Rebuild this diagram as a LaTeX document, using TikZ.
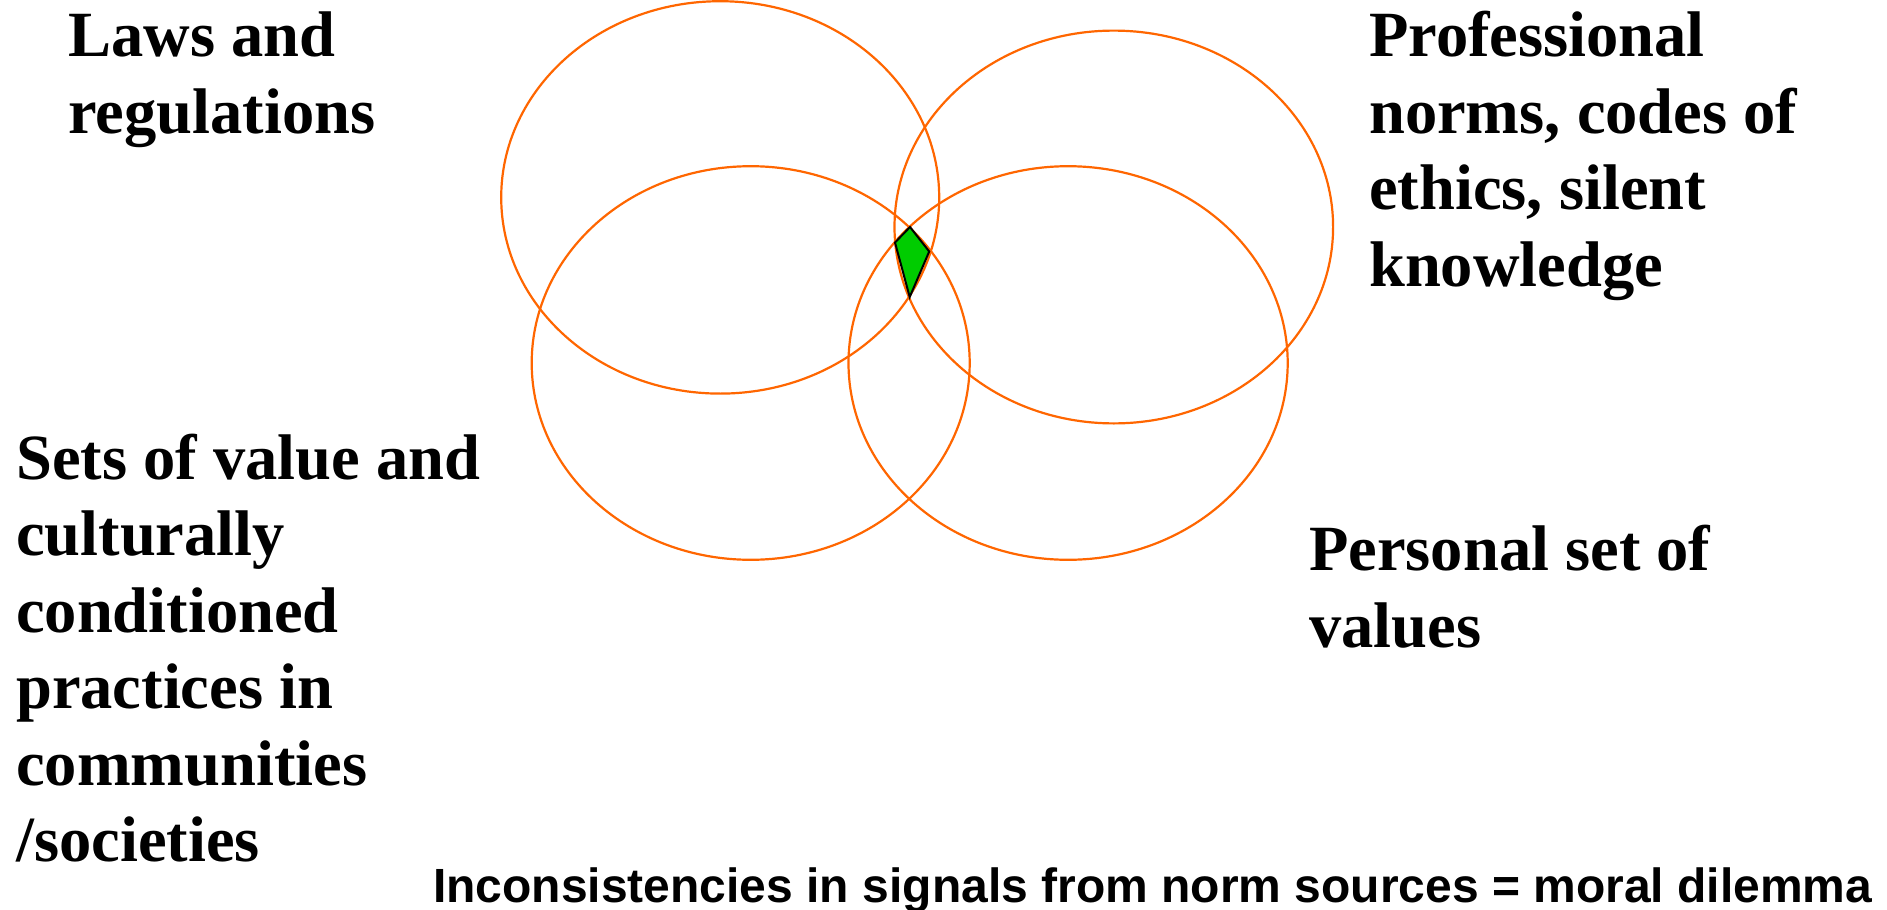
\documentclass[tikz,border=0pt]{standalone}
\usepackage{fontspec}
\setmainfont{Liberation Serif}
\setsansfont{Liberation Sans}
\definecolor{ringorange}{RGB}{255,102,0}
\definecolor{coregreen}{RGB}{0,204,0}
\begin{document}
\begin{tikzpicture}[x=1pt,y=-1pt,
  ring/.style={draw=ringorange, line width=2.2pt},
  label/.style={anchor=base west, inner sep=0pt, align=left,
    font=\fontsize{64.5}{76.5}\selectfont\bfseries},
  footer/.style={anchor=base west, inner sep=0pt,
    font=\fontsize{48}{52}\selectfont\sffamily\bfseries}]
\useasboundingbox (0,0) rectangle (1887,910);
\fill[white] (0,0) rectangle (1887,910);
% four norm-source ellipses
\draw[ring] (720.2,197.4) ellipse [x radius=219, y radius=196.2];
\draw[ring] (1113.8,227) ellipse [x radius=219.3, y radius=196.4];
\draw[ring] (750.7,363) ellipse [x radius=219, y radius=196.8];
\draw[ring] (1068.1,363) ellipse [x radius=219.6, y radius=196.8];
% common intersection
\coordinate (gt) at (910,227);
\coordinate (gl) at (895,242.5);
\coordinate (gb) at (909.7,297);
\coordinate (gr) at (929.2,251.5);
\filldraw[fill=coregreen, draw=black, line width=2pt, line join=miter] (gt) -- (gr) -- (gb) -- (gl) -- cycle;
% labels (anchored at the baseline of the last line)
\node[label] (laws) at (68,133.3) {Laws and\\regulations};
\node[label] (prof) at (1369,286) {Professional\\norms, codes of\\ethics, silent\\knowledge};
\node[label] (sets) at (16,861.7) {Sets of value and\\culturally\\conditioned\\practices in\\communities\\/societies};
\node[label] (pers) at (1309,647.3) {Personal set of\\values};
\node[footer] (foot) at (433,902.5) {Inconsistencies in signals from norm sources = moral dilemma};
\end{tikzpicture}
\end{document}
